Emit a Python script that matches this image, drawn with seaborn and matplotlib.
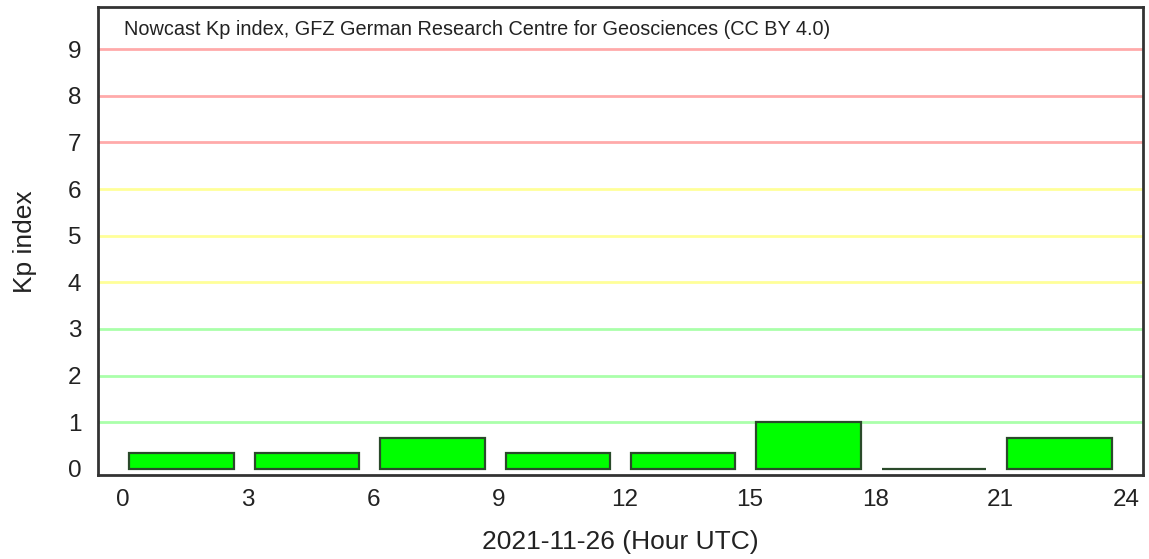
import matplotlib
matplotlib.use("Agg")
import matplotlib.pyplot as plt
import seaborn as sns
import pandas as pd

# Three-hour Kp values for the day (start hour of each interval)
interval_start = [0, 3, 6, 9, 12, 15, 18, 21]
kp_values = [0.333, 0.333, 0.667, 0.333, 0.333, 1.0, 0.0, 0.667]

x_ticks = [0, 3, 6, 9, 12, 15, 18, 21, 24]
y_ticks = [0, 1, 2, 3, 4, 5, 6, 7, 8, 9]

# Activity-level guide lines: quiet (green), active (yellow), storm (red)
level_values = [1, 2, 3, 4, 5, 6, 7, 8, 9]
level_colors = ["#aaffaa", "#aaffaa", "#aaffaa",
                "#ffff99", "#ffff99", "#ffff99",
                "#ffaaaa", "#ffaaaa", "#ffaaaa"]

title_text = "Nowcast Kp index, GFZ German Research Centre for Geosciences (CC BY 4.0)"
x_label = "2021-11-26 (Hour UTC)"
y_label = "Kp index"

sns.set_theme(style="white")
plt.rcParams["font.family"] = ["Liberation Sans", "DejaVu Sans"]

df = pd.DataFrame({
    "center": [s + 1.41 for s in interval_start],
    "kp": kp_values,
})

fig = plt.figure(figsize=(11.49, 5.59), dpi=100)
ax = fig.add_axes([0.0853, 0.150, 0.9095, 0.837])

for lv, col in zip(level_values, level_colors):
    ax.axhline(lv, color=col, linewidth=2.0, zorder=0)

sns.barplot(data=df, x="center", y="kp", native_scale=True, width=2.5 / 3,
            color="#00ff00", saturation=1, edgecolor="#2a4a2a", linewidth=1.6,
            ax=ax, zorder=2)

ax.set_xlim(-0.59, 24.41)
ax.set_ylim(-0.135, 9.9)
ax.set_xticks(x_ticks)
ax.set_xticklabels([str(t) for t in x_ticks])
ax.set_yticks(y_ticks)
ax.set_yticklabels([str(t) for t in y_ticks])
ax.tick_params(axis="both", length=0, labelsize=17.5, colors="#222222")
ax.tick_params(axis="x", pad=10)
ax.tick_params(axis="y", pad=12)

for sp in ax.spines.values():
    sp.set_visible(True)
    sp.set_color("#333333")
    sp.set_linewidth(2.0)

ax.set_xlabel(x_label, fontsize=19, color="#222222", labelpad=14)
ax.set_ylabel(y_label, fontsize=19, color="#222222", labelpad=22)

ax.text(0.021, 9.42, title_text, transform=ax.transData,
        fontsize=14.3, color="#222222", va="center", ha="left")

fig.savefig("out.png", dpi=100)
